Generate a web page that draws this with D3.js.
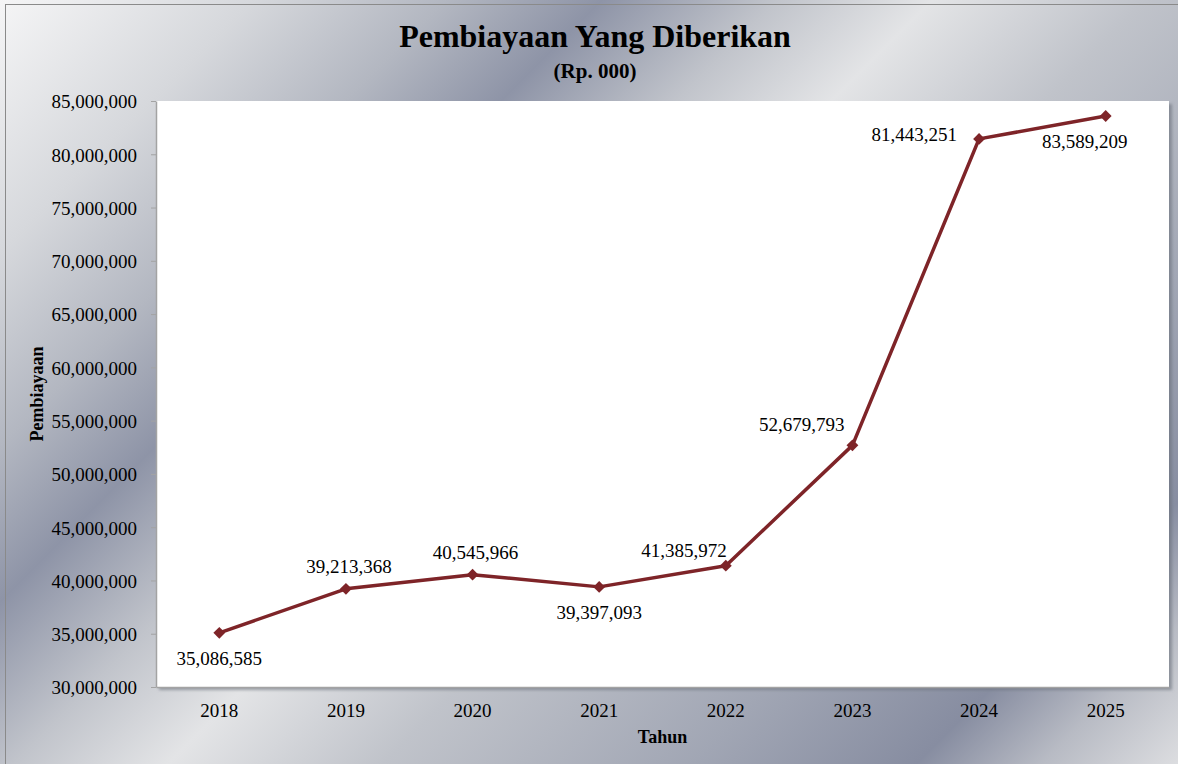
<!DOCTYPE html>
<html>
<head>
<meta charset="utf-8">
<script src="https://cdn.jsdelivr.net/npm/d3@7"></script>
<style>
  body { margin: 0; background: #fff; }
  svg text { font-family: "Liberation Serif", "Times New Roman", serif; fill: #000; }
</style>
</head>
<body>
<div id="chart-area"></div>
<script>
// data
const years = ["2018", "2019", "2020", "2021", "2022", "2023", "2024", "2025"];
const values = [35086585, 39213368, 40545966, 39397093, 41385972, 52679793, 81443251, 83589209];
const yTicks = [30000000, 35000000, 40000000, 45000000, 50000000, 55000000, 60000000, 65000000, 70000000, 75000000, 80000000, 85000000];
const labelSide = ["below", "above", "above", "below", "upLeft", "upLeftFar", "left", "belowLeft"];

// where a data label sits relative to its point
const placement = {
  below: { dx: 0, dy: 32, anchor: "middle" },
  above: { dx: 3, dy: -16, anchor: "middle" },
  upLeft: { dx: 1, dy: -9, anchor: "end" },
  upLeftFar: { dx: -8, dy: -14, anchor: "end" },
  left: { dx: -22, dy: 2, anchor: "end" },
  belowLeft: { dx: -21, dy: 32, anchor: "middle" }
};

const W = 1178, H = 764;
const plot = { left: 156, top: 101, right: 1169, bottom: 687 };

const svg = d3.select("#chart-area").append("svg")
  .attr("width", W)
  .attr("height", H);

const defs = svg.append("defs");

// metallic background
let grad = defs.append("linearGradient")
  .attr("id", "metal")
  .attr("gradientUnits", "userSpaceOnUse")
  .attr("x1", 0).attr("y1", 0)
  .attr("x2", 971).attr("y2", 971);
[
  [0, "#f5f5f6"], [0.13, "#d6d8dc"], [0.23, "#b3b7c1"], [0.31, "#8e94a7"],
  [0.40, "#c1c4cb"], [0.48, "#e3e4e6"], [0.59, "#c0c3ca"], [0.75, "#a1a6b4"],
  [0.865, "#878da1"], [0.93, "#b8bbc4"], [1, "#dcdde0"]
].forEach(s => grad.append("stop").attr("offset", s[0]).attr("stop-color", s[1]));

let shadow = defs.append("filter").attr("id", "shadow")
  .attr("x", "-5%").attr("y", "-5%").attr("width", "110%").attr("height", "110%");
shadow.append("feDropShadow")
  .attr("dx", 3).attr("dy", 3).attr("stdDeviation", 1.5)
  .attr("flood-color", "#6b6f7a").attr("flood-opacity", 0.6);

svg.append("rect")
  .attr("width", W).attr("height", H)
  .attr("fill", "url(#metal)");
// outer frame
svg.append("rect")
  .attr("x", 5.5).attr("y", 4.5)
  .attr("width", W + 10).attr("height", H + 10)
  .attr("fill", "none")
  .attr("stroke", "#8a8a8a");

// plot area
svg.append("rect")
  .attr("x", plot.left).attr("y", plot.top)
  .attr("width", plot.right - plot.left)
  .attr("height", plot.bottom - plot.top)
  .attr("fill", "#fff")
  .attr("filter", "url(#shadow)");

const x = d3.scaleBand()
  .domain(years)
  .range([plot.left, plot.right]);
const y = d3.scaleLinear()
  .domain([30000000, 85000000])
  .range([plot.bottom, plot.top]);

const fmt = d3.format(",");

// y axis
let yAxis = svg.append("g")
  .attr("transform", `translate(${plot.left}, 0)`)
  .call(d3.axisLeft(y).tickValues(yTicks).tickFormat(fmt)
    .tickSizeInner(5).tickSizeOuter(0).tickPadding(14));
yAxis.select(".domain").attr("stroke", "#a3a3a3").attr("stroke-width", 1.5);
yAxis.selectAll(".tick line").attr("stroke", "#a3a3a3");
yAxis.selectAll("text")
  .style("font-size", "19px")
  .attr("dy", "0.36em");

// x axis
let xAxis = svg.append("g")
  .attr("transform", `translate(0, ${plot.bottom})`)
  .call(d3.axisBottom(x).tickSize(0).tickPadding(17));
xAxis.select(".domain").attr("stroke", "#a3a3a3").attr("stroke-width", 1.5);
xAxis.selectAll("text").style("font-size", "19px");

// line
let line = d3.line()
  .x((d, i) => x(years[i]) + x.bandwidth() / 2)
  .y(d => y(d));

svg.append("path")
  .datum(values)
  .attr("d", line)
  .attr("fill", "none")
  .attr("stroke", "#7e2428")
  .attr("stroke-width", 3.5)
  .attr("stroke-linejoin", "round");

svg.selectAll(".marker")
  .data(values)
  .enter()
  .append("path")
  .attr("class", "marker")
  .attr("d", d3.symbol(d3.symbolSquare, 70))
  .attr("transform", (d, i) => `translate(${x(years[i]) + x.bandwidth() / 2}, ${y(d)}) rotate(45)`)
  .attr("fill", "#7e2428");

// data labels
svg.selectAll(".val")
  .data(values)
  .enter()
  .append("text")
  .attr("class", "val")
  .attr("x", (d, i) => x(years[i]) + x.bandwidth() / 2 + placement[labelSide[i]].dx)
  .attr("y", (d, i) => y(d) + placement[labelSide[i]].dy)
  .attr("text-anchor", (d, i) => placement[labelSide[i]].anchor)
  .style("font-size", "19px")
  .text(d => fmt(d));

// titles
svg.append("text")
  .attr("x", 595).attr("y", 47)
  .attr("text-anchor", "middle")
  .style("font-size", "32px")
  .style("font-weight", "bold")
  .text("Pembiayaan Yang Diberikan");
svg.append("text")
  .attr("x", 595).attr("y", 78)
  .attr("text-anchor", "middle")
  .style("font-size", "21px")
  .style("font-weight", "bold")
  .text("(Rp. 000)");

svg.append("text")
  .attr("x", (plot.left + plot.right) / 2).attr("y", 743)
  .attr("text-anchor", "middle")
  .style("font-size", "18px")
  .style("font-weight", "bold")
  .text("Tahun");

svg.append("text")
  .attr("transform", `translate(43, ${(plot.top + plot.bottom) / 2}) rotate(-90)`)
  .attr("text-anchor", "middle")
  .style("font-size", "18px")
  .style("font-weight", "bold")
  .text("Pembiayaan");
</script>
</body>
</html>
